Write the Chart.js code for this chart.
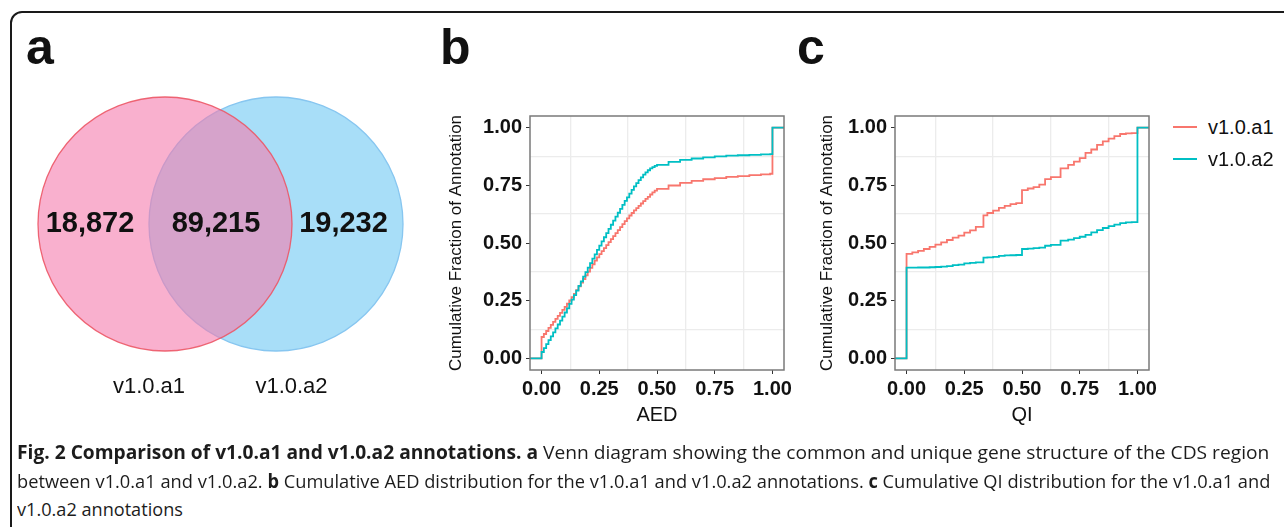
<!DOCTYPE html>
<html>
<head>
<meta charset="utf-8">
<script src="https://cdn.jsdelivr.net/npm/chart.js@4/dist/chart.umd.min.js"></script>
<style>
body { margin: 0; width: 1284px; height: 527px; overflow: hidden; background: #fff; position: relative; font-family: "Liberation Sans", Arial, sans-serif; color: #111; }
.frame { position: absolute; left: 10px; top: 11px; width: 1320px; height: 580px; border: 2px solid #1a1a1a; border-radius: 12px; box-sizing: border-box; }
.letter { position: absolute; font-weight: bold; font-size: 50px; line-height: 1; }
.num { position: absolute; font-weight: bold; font-size: 29px; transform: translate(-50%, -50%); white-space: nowrap; }
.vlab { position: absolute; font-size: 22px; transform: translate(-50%, -50%); white-space: nowrap; }
.box { position: absolute; }
.leg { position: absolute; font-size: 20px; white-space: nowrap; }
.leg i { position: absolute; width: 24px; height: 2px; }
.cap { position: absolute; left: 17px; font-family: "Open Sans", sans-serif; font-size: 19px; line-height: 28px; white-space: nowrap; transform-origin: 0 50%; color: #1c1c1c; }
</style>
</head>
<body>
<div class="frame"></div>
<div class="letter" style="left:26px;top:22px">a</div>
<div class="letter" style="left:440px;top:22px">b</div>
<div class="letter" style="left:797px;top:22px">c</div>

<div class="box" style="left:0;top:0;width:440px;height:448px"><canvas id="venn"></canvas></div>
<div class="box" style="left:440px;top:100px;width:370px;height:330px"><canvas id="aed"></canvas></div>
<div class="box" style="left:805px;top:100px;width:370px;height:330px"><canvas id="qi"></canvas></div>
<div id="texts"></div>

<div class="cap" id="cap1" style="top:438px"><b>Fig. 2 Comparison of v1.0.a1 and v1.0.a2 annotations.</b> <b>a</b> Venn diagram showing the common and unique gene structure of the CDS region</div>
<div class="cap" id="cap2" style="top:467px">between v1.0.a1 and v1.0.a2. <b>b</b> Cumulative AED distribution for the v1.0.a1 and v1.0.a2 annotations. <b>c</b> Cumulative QI distribution for the v1.0.a1 and</div>
<div class="cap" id="cap3" style="top:495px">v1.0.a2 annotations</div>

<script>
// series names + colours (ggplot defaults)
const names = ["v1.0.a1", "v1.0.a2"];
const colors = ["#F8766D", "#00BFC4"];

// venn: only a1, shared, only a2
const vennCounts = [18872, 89215, 19232];

// AED ecdf
const aedX = [-0.05,
  0.00,0.01,0.02,0.03,0.04,0.05,0.06,0.07,0.08,0.09,
  0.10,0.11,0.12,0.13,0.14,0.15,0.16,0.17,0.18,0.19,
  0.20,0.21,0.22,0.23,0.24,0.25,0.26,0.27,0.28,0.29,
  0.30,0.31,0.32,0.33,0.34,0.35,0.36,0.37,0.38,0.39,
  0.40,0.41,0.42,0.43,0.44,0.45,0.46,0.47,0.48,0.49,
  0.50,0.55,0.60,0.65,0.70,0.75,0.80,0.85,0.90,0.95,0.99,1.00,1.05];
const aedA1 = [0,
  0.093,0.106,0.119,0.132,0.145,0.158,0.171,0.184,0.197,0.210,
  0.223,0.237,0.251,0.265,0.280,0.296,0.312,0.328,0.344,0.360,
  0.376,0.392,0.408,0.424,0.438,0.452,0.465,0.478,0.491,0.504,
  0.517,0.530,0.543,0.556,0.569,0.582,0.595,0.607,0.619,0.630,
  0.641,0.651,0.661,0.671,0.681,0.691,0.700,0.710,0.719,0.727,
  0.734,0.749,0.760,0.769,0.776,0.781,0.786,0.790,0.794,0.797,0.800,1.0,1.0];
const aedA2 = [0,
  0.028,0.045,0.062,0.079,0.096,0.113,0.130,0.147,0.164,0.181,
  0.199,0.217,0.236,0.255,0.274,0.294,0.314,0.334,0.354,0.374,
  0.393,0.413,0.432,0.451,0.470,0.489,0.507,0.525,0.543,0.561,
  0.579,0.597,0.614,0.631,0.648,0.665,0.682,0.698,0.714,0.730,
  0.745,0.759,0.772,0.784,0.796,0.806,0.815,0.823,0.829,0.834,
  0.838,0.851,0.860,0.866,0.871,0.875,0.878,0.880,0.882,0.884,0.885,1.0,1.0];

// QI ecdf
const qiX = [-0.05,0,0.025,0.05,0.075,0.1,0.125,0.15,0.175,0.2,0.225,0.25,0.275,0.3,0.333,0.35,0.375,0.4,0.425,0.45,0.475,
  0.5,0.525,0.55,0.575,0.6,0.625,0.667,0.7,0.725,0.75,0.775,0.8,0.825,0.85,0.875,0.9,0.925,0.95,0.975,1.0,1.05];
const qiA1 = [0,0.453,0.459,0.466,0.474,0.483,0.493,0.503,0.513,0.523,0.532,0.545,0.555,0.570,0.620,0.630,0.640,0.652,0.661,0.668,0.673,
  0.729,0.736,0.742,0.753,0.777,0.785,0.823,0.838,0.852,0.868,0.890,0.905,0.925,0.940,0.952,0.963,0.972,0.975,0.976,1.0,1.0];
const qiA2 = [0,0.393,0.393,0.394,0.394,0.395,0.396,0.398,0.400,0.404,0.406,0.412,0.414,0.416,0.437,0.438,0.440,0.444,0.446,0.447,0.448,
  0.474,0.476,0.478,0.480,0.488,0.492,0.510,0.515,0.521,0.527,0.535,0.546,0.556,0.565,0.573,0.580,0.586,0.589,0.590,1.0,1.0];

const majorTicks = [0, 0.25, 0.5, 0.75, 1];
const minorTicks = [0.125, 0.375, 0.625, 0.875];

const FONT = '"Liberation Sans", Arial, sans-serif';
Chart.defaults.font.family = FONT;
Chart.defaults.color = "#111";

// grey panel border drawn over the lines like ggplot
const panelBorder = {
  id: "panelBorder",
  afterDatasetsDraw(chart) {
    const { ctx, chartArea: a } = chart;
    ctx.save();
    ctx.strokeStyle = "#7a7a7a";
    ctx.lineWidth = 1.5;
    ctx.strokeRect(a.left, a.top, a.width, a.height);
    ctx.restore();
  },
};

function stepChart(id, xs, ys1, ys2, xTitle, titlePad) {
  const mk = (ys, i) => ({
    label: names[i],
    data: xs.map((x, k) => ({ x: x, y: ys[k] })),
    borderColor: colors[i],
    borderWidth: 1.8,
    stepped: true,
    pointRadius: 0,
    fill: false,
    order: 1 - i,
  });
  const setTicks = (arr) => (s) => { s.ticks = arr.map((v) => ({ value: v })); };
  return new Chart(document.getElementById(id), {
    type: "line",
    data: { datasets: [mk(ys1, 0), mk(ys2, 1)] },
    options: {
      responsive: true,
      maintainAspectRatio: false,
      animation: false,
      layout: { padding: { top: 7, right: 26, left: 0, bottom: 0 } },
      plugins: { legend: { display: false }, tooltip: { enabled: false } },
      scales: {
        x: {
          type: "linear", min: -0.05, max: 1.05,
          afterBuildTicks: setTicks(majorTicks),
          afterFit: (s) => { s.height = 60; },
          ticks: { font: { size: 20, weight: "bold" }, color: "#111", padding: 3, maxRotation: 0, autoSkip: false, callback: (v) => v.toFixed(2) },
          grid: { drawOnChartArea: false, tickLength: 4, tickColor: "#333" },
          border: { display: false },
          title: { display: true, text: xTitle, font: { size: 20 }, color: "#111", padding: { top: 0, bottom: 3 } },
        },
        xm: {
          type: "linear", position: "bottom", min: -0.05, max: 1.05,
          afterBuildTicks: setTicks(minorTicks),
          afterFit: (s) => { s.height = 0; },
          ticks: { display: false },
          grid: { color: "#ececec", lineWidth: 1.3, drawTicks: false },
          border: { display: false },
        },
        y: {
          min: -0.05, max: 1.05,
          afterBuildTicks: setTicks(majorTicks),
          afterFit: (s) => { s.width = 90; },
          ticks: { font: { size: 20, weight: "bold" }, color: "#111", padding: 4, callback: (v) => v.toFixed(2) },
          grid: { drawOnChartArea: false, tickLength: 4, tickColor: "#333" },
          border: { display: false },
          title: { display: true, text: "Cumulative Fraction of Annotation", font: { size: 17 }, color: "#111", padding: { top: titlePad, bottom: 0 } },
        },
        ym: {
          position: "left", min: -0.05, max: 1.05,
          afterBuildTicks: setTicks(minorTicks),
          afterFit: (s) => { s.width = 0; },
          ticks: { display: false },
          grid: { color: "#ececec", lineWidth: 1.3, drawTicks: false },
          border: { display: false },
        },
      },
    },
    plugins: [panelBorder],
  });
}

stepChart("aed", aedX, aedA1, aedA2, "AED", 6);
stepChart("qi", qiX, qiA1, qiA2, "QI", 12);

// venn as two bubbles, set 0 centred at x=0 and set 1 at x=1
const venn = new Chart(document.getElementById("venn"), {
  type: "bubble",
  data: {
    datasets: [
      { label: names[0], data: [{ x: 0, y: 0, r: 127 }], backgroundColor: "rgba(245,123,173,0.6)", borderColor: "rgba(236,86,102,0.9)", borderWidth: 1.3, order: 0, clip: false },
      { label: names[1], data: [{ x: 1, y: 0, r: 127 }], backgroundColor: "rgb(168,222,248)", borderColor: "rgb(135,198,240)", borderWidth: 1.3, order: 1, clip: false },
    ],
  },
  options: {
    responsive: true,
    maintainAspectRatio: false,
    animation: false,
    plugins: { legend: { display: false }, tooltip: { enabled: false } },
    scales: {
      x: { display: false, min: 0, max: 1 },
      y: { display: false, min: -1, max: 1 },
    },
  },
});
// bubble charts pad the chart area by the radius; place centres at 165px and 276px
{
  const a = venn.chartArea;
  const ppu = 111;
  venn.options.scales.x.min = -(165 - a.left) / ppu;
  venn.options.scales.x.max = venn.options.scales.x.min + (a.right - a.left) / ppu;
  const cy = 224, half = (a.bottom - a.top) / 2;
  venn.options.scales.y.min = -1 - (a.top + half - cy) / half * -1;
  venn.options.scales.y.max = venn.options.scales.y.min + 2;
  venn.update();
}

// venn texts + legend
const texts = document.getElementById("texts");
function addDiv(cls, html, style) {
  const d = document.createElement("div");
  d.className = cls;
  d.innerHTML = html;
  d.style.cssText = style;
  texts.appendChild(d);
  return d;
}
const countX = [90, 216, 343.5];
vennCounts.forEach((c, i) => addDiv("num", c.toLocaleString("en-US"), `left:${countX[i]}px;top:222px`));
addDiv("vlab", names[0], "left:149px;top:386px");
addDiv("vlab", names[1], "left:291.5px;top:386px");
names.forEach((n, i) => {
  addDiv("leg", `<i style="left:-35px;top:11px;background:${colors[i]}"></i>${n}`, `left:1208px;top:${115 + i * 32}px;line-height:24px`);
});

// squeeze caption lines to the printed width
const fit = (id, w) => {
  const el = document.getElementById(id);
  el.style.transform = `scaleX(${w / el.scrollWidth})`;
};
fit("cap1", 1252);
fit("cap2", 1253);
fit("cap3", 166);
</script>
</body>
</html>
